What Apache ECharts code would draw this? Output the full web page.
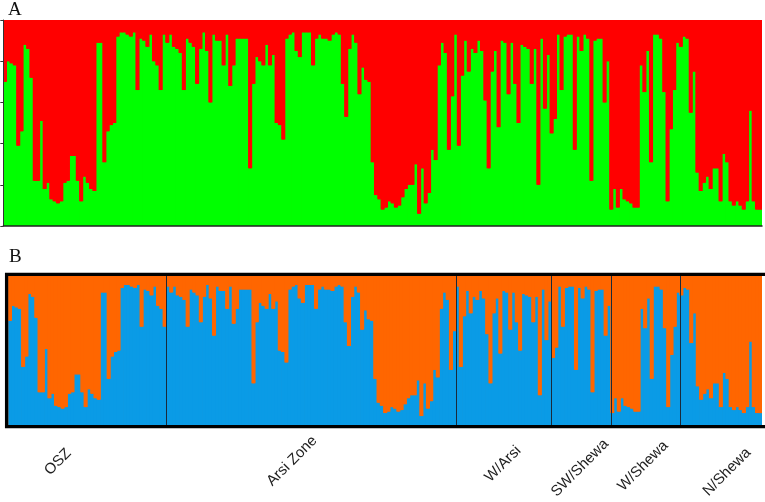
<!DOCTYPE html>
<html>
<head>
<meta charset="utf-8">
<script src="https://cdn.jsdelivr.net/npm/echarts@6/dist/echarts.min.js"></script>
<style>
  html, body { margin: 0; padding: 0; background: #fff; }
  #chart { width: 765px; height: 502px; }
</style>
</head>
<body>
<div id="chart"></div>
<script>
// membership (%) in cluster 1 (green in A, blue in B), one value per individual
const membership = [
  70, 80, 79, 78, 39, 46, 88, 86, 72, 22, 22, 51, 18, 21, 13, 12, 11, 12, 21, 22,
  34, 34, 22, 12, 24, 21, 18, 17, 89, 89, 31, 46, 49, 50, 92, 94, 94, 93, 92, 94,
  66, 91, 90, 87, 93, 80, 78, 66, 93, 89, 93, 87, 86, 84, 66, 91, 89, 87, 69, 86,
  94, 85,
  60, 93, 90, 90, 78, 93, 68, 78, 91, 91, 91, 91, 28, 69, 82, 80, 78, 88, 78, 83,
  50, 49, 42, 91, 93, 94, 85, 82, 94, 94, 94, 78, 91, 93, 91, 91, 90, 93, 94, 93,
  69, 53, 86, 93, 89, 64, 77, 71, 70, 31, 15,
  13, 8, 9, 12, 11, 9, 10, 14, 18, 20, 20, 30, 6, 28, 11, 16, 37, 32, 78, 89,
  84, 37, 63, 93, 39, 73, 90, 75, 86, 84, 90, 85, 61, 28, 75, 85, 48, 90, 89, 64,
  89, 69, 50, 88, 87, 86, 69, 86, 20, 91, 57, 83, 45, 52, 93, 66, 92,
  93, 93, 37, 92, 85, 93, 91, 22, 90, 91, 91, 60, 80, 8, 18, 9, 18, 13, 12, 11,
  9, 9, 78, 65, 85, 31, 93, 93, 91, 65, 12, 47, 66, 89, 87, 92, 91, 55, 75, 26,
  17, 21, 24, 18, 28, 28, 12, 35, 31, 12, 10, 12, 10, 8, 12, 56, 12, 8, 8
]
const popNames = ['OSZ', 'Arsi Zone', 'W/Arsi', 'SW/Shewa', 'W/Shewa', 'N/Shewa']
const popSizes = [48, 88, 29, 18, 21, 25]
const yTicks = [0, 20, 40, 60, 80, 100]

const individuals = membership.map((_, i) => i + 1)
const rest = membership.map((v) => 100 - v)

// where each population name sits under panel B
const labelPos = [[58, 462], [292, 461], [503, 464], [580, 468], [643, 466], [727, 472]]

const gridA = { left: 3.3, top: 20, width: 758.7, height: 206 }
const gridB = { left: 8.3, top: 276, width: 753.7, height: 149 }

const chart = echarts.init(document.getElementById('chart'), null, { renderer: 'canvas' })

// bars a little wider than their slot so neighbours overlap and no seams show
function barSeries(name, data, color, axis, stack, slot) {
  return {
    name,
    type: 'bar',
    data,
    stack,
    xAxisIndex: axis,
    yAxisIndex: axis,
    barWidth: slot + 0.8,
    barGap: '-100%',
    silent: true,
    animation: false,
    itemStyle: { color },
  }
}

const slotA = gridA.width / membership.length
const slotB = gridB.width / membership.length

chart.setOption({
  animation: false,
  grid: [
    { ...gridA, show: true, backgroundColor: '#ff0000', borderWidth: 0 },
    { ...gridB, show: true, backgroundColor: '#ff6600', borderWidth: 0 },
  ],
  xAxis: [
    {
      type: 'category',
      gridIndex: 0,
      data: individuals,
      axisTick: { show: false },
      axisLabel: { show: false },
      axisLine: { show: true, lineStyle: { color: '#222', width: 1.5 } },
      z: 5,
    },
    {
      type: 'category',
      gridIndex: 1,
      data: individuals,
      axisTick: { show: false },
      axisLabel: { show: false },
      axisLine: { show: false },
    },
  ],
  yAxis: [
    {
      type: 'value',
      gridIndex: 0,
      min: yTicks[0],
      max: yTicks[yTicks.length - 1],
      interval: yTicks[1] - yTicks[0],
      splitLine: { show: false },
      axisLabel: { show: false },
      axisLine: { show: true, lineStyle: { color: '#333', width: 1 } },
      axisTick: { show: true, length: 3, lineStyle: { color: '#333' } },
      z: 5,
    },
    {
      type: 'value',
      gridIndex: 1,
      min: 0,
      max: 100,
      splitLine: { show: false },
      axisLabel: { show: false },
      axisLine: { show: false },
      axisTick: { show: false },
    },
  ],
  series: [
    barSeries('A1', membership, '#00ff00', 0, 'a', slotA),
    barSeries('A2', rest, '#ff0000', 0, 'a', slotA),
    barSeries('B1', membership, '#0a9be6', 1, 'b', slotB),
    barSeries('B2', rest, '#ff6600', 1, 'b', slotB),
  ],
})

// population dividers and labels for panel B
const graphics = []
const yTop = chart.convertToPixel({ yAxisIndex: 1 }, 100)
const yBot = chart.convertToPixel({ yAxisIndex: 1 }, 0)
let start = 0
popSizes.forEach((size, p) => {
  const end = start + size
  if (end < membership.length) {
    const a = chart.convertToPixel({ xAxisIndex: 1 }, end - 1)
    const b = chart.convertToPixel({ xAxisIndex: 1 }, end)
    const x = Math.round((a + b) / 2) + 0.5
    graphics.push({
      type: 'line',
      shape: { x1: x, y1: yTop, x2: x, y2: yBot },
      style: { stroke: '#1a2a3a', lineWidth: 1 },
      z: 10,
    })
  }
  graphics.push({
    type: 'text',
    x: labelPos[p][0],
    y: labelPos[p][1],
    rotation: Math.PI / 4,
    style: {
      text: popNames[p],
      fill: '#222',
      font: '15px "Liberation Sans", Arial, sans-serif',
      align: 'center',
      verticalAlign: 'middle',
    },
  })
  start = end
})

graphics.push(
  {
    type: 'rect',
    shape: { x: 6.6, y: 274.3, width: 800, height: 152.4 },
    style: { fill: 'none', stroke: '#000', lineWidth: 3.3 },
    z: 11,
  },
  {
    type: 'text',
    x: 8,
    y: 1,
    style: { text: 'A', fill: '#111', font: '19px "Liberation Serif", "Times New Roman", serif' },
  },
  {
    type: 'text',
    x: 9,
    y: 248,
    style: { text: 'B', fill: '#111', font: '19px "Liberation Serif", "Times New Roman", serif' },
  }
)

chart.setOption({ graphic: graphics })
</script>
</body>
</html>
